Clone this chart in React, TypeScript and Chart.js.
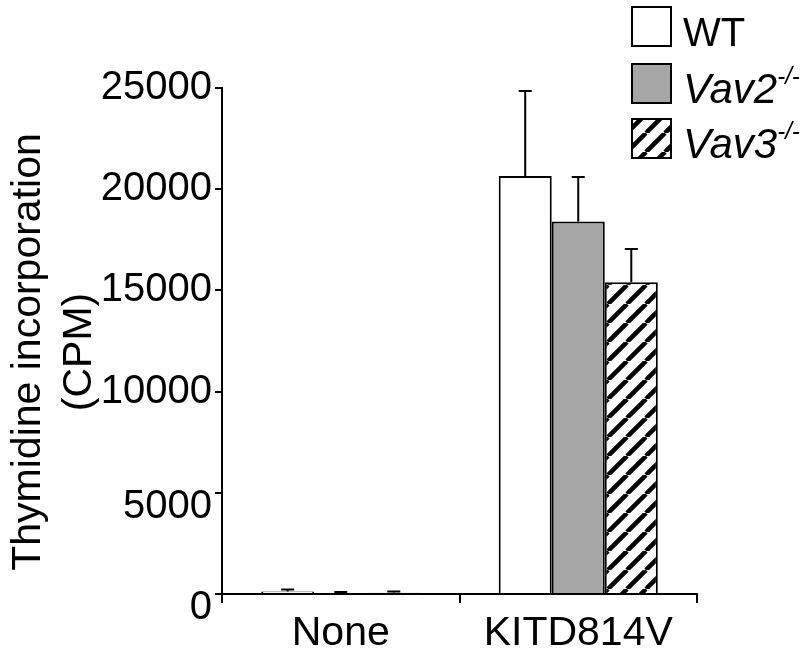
import React, { useEffect, useRef } from 'react';
import { Chart, registerables } from 'chart.js';

Chart.register(...registerables);

const categories = ['None', 'KITD814V'];
const wtValues = [120, 20650];
const vav2Values = [50, 18400];
const vav3Values = [60, 15400];
const wtErrors = [100, 4200];
const vav2Errors = [50, 2200];
const vav3Errors = [60, 1650];
const yTicks = [0, 5000, 10000, 15000, 20000, 25000];
const axisTitleLines = ['Thymidine incorporation', '(CPM)'];
const legendLabels = ['WT', 'Vav2', 'Vav3'];
const legendSuperscripts = ['', '-/-', '-/-'];

const FONT = '"Liberation Sans", Arial, Helvetica, sans-serif';

function makeHatch(ctx: CanvasRenderingContext2D) {
  const s = 19;
  const c = document.createElement('canvas');
  c.width = s;
  c.height = s;
  const g = c.getContext('2d')!;
  g.fillStyle = '#fff';
  g.fillRect(0, 0, s, s);
  g.strokeStyle = '#000';
  g.lineWidth = 4.5;
  g.beginPath();
  for (let k = -1; k <= 1; k++) {
    g.moveTo(k * s, s);
    g.lineTo(k * s + s, 0);
  }
  g.stroke();
  return ctx.createPattern(c, 'repeat')!;
}

export default function App() {
  const ref = useRef<HTMLCanvasElement>(null);

  useEffect(() => {
    const canvas = ref.current!;
    const ctx = canvas.getContext('2d')!;
    const hatch = makeHatch(ctx);
    const errorSets = [wtErrors, vav2Errors, vav3Errors];
    const fills: any[] = ['#ffffff', '#a6a6a6', hatch];

    const customPlugin = {
      id: 'customDraw',
      afterDatasetsDraw(chart: any) {
        const c = chart.ctx;
        const yS = chart.scales.y;
        chart.data.datasets.forEach((ds: any, i: number) => {
          const meta = chart.getDatasetMeta(i);
          meta.data.forEach((bar: any, j: number) => {
            const v = ds.data[j];
            const e = errorSets[i][j];
            const top = yS.getPixelForValue(v + e);
            c.save();
            c.strokeStyle = '#000';
            c.lineWidth = 2;
            c.beginPath();
            c.moveTo(bar.x, bar.y);
            c.lineTo(bar.x, top);
            c.moveTo(bar.x - 6.5, top);
            c.lineTo(bar.x + 6.5, top);
            c.stroke();
            c.restore();
          });
        });
      },
      afterDraw(chart: any) {
        const c = chart.ctx;
        // Axis title
        c.save();
        c.fillStyle = '#000';
        c.font = `41px ${FONT}`;
        c.textAlign = 'center';
        c.textBaseline = 'middle';
        const xs = [29, 80];
        axisTitleLines.forEach((line, i) => {
          c.save();
          c.translate(xs[i], 352);
          c.rotate(-Math.PI / 2);
          c.fillText(line, 0, 0);
          c.restore();
        });
        c.restore();

        // Legend
        const boxTops = [7, 64, 119];
        const boxSize = 39;
        const boxX = 632;
        legendLabels.forEach((lab, i) => {
          const top = boxTops[i];
          c.save();
          c.fillStyle = fills[i];
          c.fillRect(boxX, top, boxSize, boxSize);
          c.strokeStyle = '#000';
          c.lineWidth = 2;
          c.strokeRect(boxX, top, boxSize, boxSize);
          c.fillStyle = '#000';
          c.textAlign = 'left';
          c.textBaseline = 'alphabetic';
          const base = top + boxSize;
          if (i === 0) {
            c.font = `40px ${FONT}`;
            c.fillText(lab, 683, base);
          } else {
            c.font = `italic 42px ${FONT}`;
            c.fillText(lab, 683, base);
            const w = c.measureText(lab).width;
            c.font = `italic 24px ${FONT}`;
            c.fillText(legendSuperscripts[i], 683 + w, base - 19);
          }
          c.restore();
        });
      },
    };

    const chart = new Chart(canvas, {
      type: 'bar',
      data: {
        labels: categories,
        datasets: [
          { label: legendLabels[0], data: wtValues, backgroundColor: fills[0], borderColor: '#000', borderWidth: 2 },
          { label: legendLabels[1], data: vav2Values, backgroundColor: fills[1], borderColor: '#000', borderWidth: 2 },
          { label: legendLabels[2], data: vav3Values, backgroundColor: fills[2], borderColor: '#000', borderWidth: 2 },
        ],
      },
      options: {
        responsive: false,
        animation: false,
        events: [],
        layout: { padding: { left: 0, top: 88, right: 109, bottom: 0 } },
        datasets: { bar: { categoryPercentage: 0.67, barPercentage: 1 } },
        plugins: { legend: { display: false }, tooltip: { enabled: false } },
        scales: {
          x: {
            type: 'category',
            offset: true,
            grid: { offset: true, drawOnChartArea: false, drawTicks: true, tickLength: 9, color: '#000', lineWidth: 2 },
            border: { display: true, color: '#000', width: 2 },
            ticks: { color: '#000', font: { family: FONT, size: 41 }, padding: 6, maxRotation: 0, autoSkip: false },
            afterFit: (s: any) => { s.height = 63; },
          },
          y: {
            min: 0,
            max: 25000,
            afterBuildTicks: (s: any) => { s.ticks = yTicks.map((v) => ({ value: v })); },
            grid: { drawOnChartArea: false, tickLength: 7, color: '#000', lineWidth: 2 },
            border: { display: true, color: '#000', width: 2 },
            ticks: {
              color: '#000',
              font: { family: FONT, size: 40, lineHeight: 0.7 },
              padding: 3,
              callback: (v: any) => (v === 0 || v === 5000 ? ['', String(v)] : String(v)),
            },
            afterFit: (s: any) => { s.width = 222; },
          },
        },
      } as any,
      plugins: [customPlugin],
    });
    return () => chart.destroy();
  }, []);

  return (
    <canvas
      ref={ref}
      width={806}
      height={657}
      style={{ position: 'fixed', left: 0, top: 0, width: 806, height: 657 }}
    />
  );
}
